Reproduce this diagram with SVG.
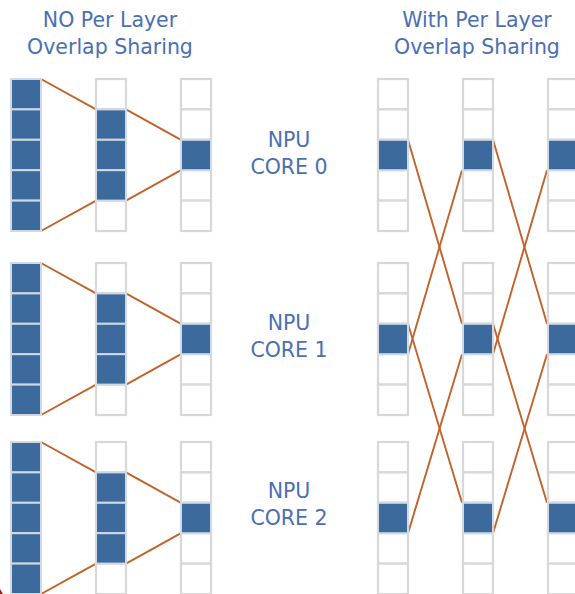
<svg xmlns="http://www.w3.org/2000/svg" width="575" height="594" viewBox="0 0 575 594">
  <defs>
    <style>
      .title { font-family: "DejaVu Sans", "Liberation Sans", sans-serif; font-size: 20.5px; fill: #4a6fb3; text-anchor: middle; }
      .cell { fill: #ffffff; stroke: #d8d8d8; stroke-width: 2.2; }
      .on { fill: #3d6a9c; stroke: #d0dae5; stroke-width: 2; }
      .link { stroke: #c1622b; stroke-width: 1.9; fill: none; }
    </style>
    <!-- one column of five cells, 30 x 152 -->
    <g id="col5">
      <rect class="cell" x="0" y="0" width="30" height="30.4"/>
      <rect class="cell" x="0" y="30.4" width="30" height="30.4"/>
      <rect class="cell" x="0" y="60.8" width="30" height="30.4"/>
      <rect class="cell" x="0" y="91.2" width="30" height="30.4"/>
      <rect class="cell" x="0" y="121.6" width="30" height="30.4"/>
    </g>
  </defs>

  <rect width="575" height="594" fill="#ffffff"/>

  <!-- headings -->
  <g id="heading-left">
    <text class="title" x="110" y="27">NO Per Layer</text>
    <text class="title" x="110" y="54">Overlap Sharing</text>
  </g>
  <g id="heading-right">
    <text class="title" x="477" y="27">With Per Layer</text>
    <text class="title" x="477" y="54">Overlap Sharing</text>
  </g>

  <!-- core labels -->
  <g id="label-core0">
    <text class="title" x="289" y="147">NPU</text>
    <text class="title" x="289" y="174">CORE 0</text>
  </g>
  <g id="label-core1">
    <text class="title" x="289" y="330">NPU</text>
    <text class="title" x="289" y="357">CORE 1</text>
  </g>
  <g id="label-core2">
    <text class="title" x="289" y="498">NPU</text>
    <text class="title" x="289" y="525">CORE 2</text>
  </g>

  <!-- connectors -->
  <g id="connectors">
    <!-- left side: receptive field shrinking per core -->
    <line class="link" x1="41" y1="79" x2="96" y2="109.4"/>
    <line class="link" x1="41" y1="231" x2="96" y2="200.6"/>
    <line class="link" x1="126" y1="109.4" x2="181" y2="139.8"/>
    <line class="link" x1="126" y1="200.6" x2="181" y2="170.2"/>

    <line class="link" x1="41" y1="263" x2="96" y2="293.4"/>
    <line class="link" x1="41" y1="415" x2="96" y2="384.6"/>
    <line class="link" x1="126" y1="293.4" x2="181" y2="323.8"/>
    <line class="link" x1="126" y1="384.6" x2="181" y2="354.2"/>

    <line class="link" x1="41" y1="442" x2="96" y2="472.4"/>
    <line class="link" x1="41" y1="594" x2="96" y2="563.6"/>
    <line class="link" x1="126" y1="472.4" x2="181" y2="502.8"/>
    <line class="link" x1="126" y1="563.6" x2="181" y2="533.2"/>

    <!-- right side: overlap shared between neighbouring cores -->
    <line class="link" x1="408" y1="139.8" x2="462" y2="323.8"/>
    <line class="link" x1="408" y1="354.2" x2="462" y2="170.2"/>
    <line class="link" x1="408" y1="323.8" x2="462" y2="502.8"/>
    <line class="link" x1="408" y1="533.2" x2="462" y2="354.2"/>

    <line class="link" x1="493" y1="139.8" x2="547" y2="323.8"/>
    <line class="link" x1="493" y1="354.2" x2="547" y2="170.2"/>
    <line class="link" x1="493" y1="323.8" x2="547" y2="502.8"/>
    <line class="link" x1="493" y1="533.2" x2="547" y2="354.2"/>
  </g>

  <!-- left side columns -->
  <g id="left-core0" transform="translate(11,79)">
    <rect class="on" x="0" y="0" width="30" height="30.4"/>
    <rect class="on" x="0" y="30.4" width="30" height="30.4"/>
    <rect class="on" x="0" y="60.8" width="30" height="30.4"/>
    <rect class="on" x="0" y="91.2" width="30" height="30.4"/>
    <rect class="on" x="0" y="121.6" width="30" height="30.4"/>
    <use href="#col5" x="85"/>
    <rect class="on" x="85" y="30.4" width="30" height="30.4"/>
    <rect class="on" x="85" y="60.8" width="30" height="30.4"/>
    <rect class="on" x="85" y="91.2" width="30" height="30.4"/>
    <use href="#col5" x="170"/>
    <rect class="on" x="170" y="60.8" width="30" height="30.4"/>
  </g>
  <g id="left-core1" transform="translate(11,263)">
    <rect class="on" x="0" y="0" width="30" height="30.4"/>
    <rect class="on" x="0" y="30.4" width="30" height="30.4"/>
    <rect class="on" x="0" y="60.8" width="30" height="30.4"/>
    <rect class="on" x="0" y="91.2" width="30" height="30.4"/>
    <rect class="on" x="0" y="121.6" width="30" height="30.4"/>
    <use href="#col5" x="85"/>
    <rect class="on" x="85" y="30.4" width="30" height="30.4"/>
    <rect class="on" x="85" y="60.8" width="30" height="30.4"/>
    <rect class="on" x="85" y="91.2" width="30" height="30.4"/>
    <use href="#col5" x="170"/>
    <rect class="on" x="170" y="60.8" width="30" height="30.4"/>
  </g>
  <g id="left-core2" transform="translate(11,442)">
    <rect class="on" x="0" y="0" width="30" height="30.4"/>
    <rect class="on" x="0" y="30.4" width="30" height="30.4"/>
    <rect class="on" x="0" y="60.8" width="30" height="30.4"/>
    <rect class="on" x="0" y="91.2" width="30" height="30.4"/>
    <rect class="on" x="0" y="121.6" width="30" height="30.4"/>
    <use href="#col5" x="85"/>
    <rect class="on" x="85" y="30.4" width="30" height="30.4"/>
    <rect class="on" x="85" y="60.8" width="30" height="30.4"/>
    <rect class="on" x="85" y="91.2" width="30" height="30.4"/>
    <use href="#col5" x="170"/>
    <rect class="on" x="170" y="60.8" width="30" height="30.4"/>
  </g>

  <!-- right side columns -->
  <g id="right-core0" transform="translate(378,79)">
    <use href="#col5" x="0"/>
    <rect class="on" x="0" y="60.8" width="30" height="30.4"/>
    <use href="#col5" x="85"/>
    <rect class="on" x="85" y="60.8" width="30" height="30.4"/>
    <use href="#col5" x="170"/>
    <rect class="on" x="170" y="60.8" width="30" height="30.4"/>
  </g>
  <g id="right-core1" transform="translate(378,263)">
    <use href="#col5" x="0"/>
    <rect class="on" x="0" y="60.8" width="30" height="30.4"/>
    <use href="#col5" x="85"/>
    <rect class="on" x="85" y="60.8" width="30" height="30.4"/>
    <use href="#col5" x="170"/>
    <rect class="on" x="170" y="60.8" width="30" height="30.4"/>
  </g>
  <g id="right-core2" transform="translate(378,442)">
    <use href="#col5" x="0"/>
    <rect class="on" x="0" y="60.8" width="30" height="30.4"/>
    <use href="#col5" x="85"/>
    <rect class="on" x="85" y="60.8" width="30" height="30.4"/>
    <use href="#col5" x="170"/>
    <rect class="on" x="170" y="60.8" width="30" height="30.4"/>
  </g>

  <!-- pointer tip at the lower left edge -->
  <path d="M0,589 L3,594 L0,594 Z" fill="#a81a1a"/>
</svg>
